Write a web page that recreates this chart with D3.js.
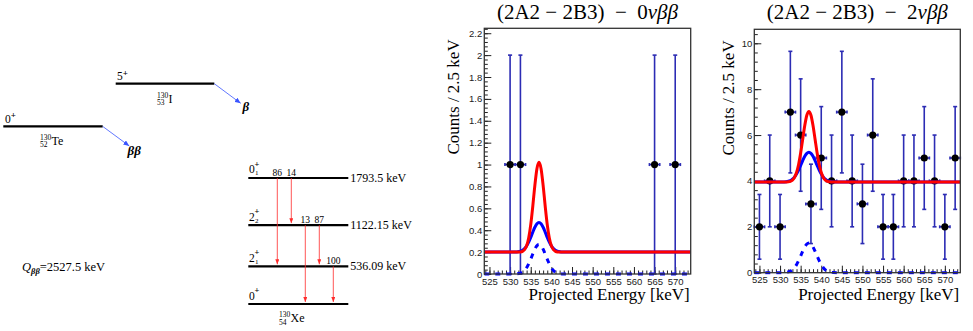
<!DOCTYPE html>
<html>
<head>
<meta charset="utf-8">
<script src="https://cdn.jsdelivr.net/npm/d3@7"></script>
<style>
  body { margin: 0; background: #fff; }
  svg { display: block; }
  .serif { font-family: "Liberation Serif", "Times New Roman", serif; }
  .sans { font-family: "Liberation Sans", Arial, sans-serif; }
</style>
</head>
<body>
<svg id="chart" width="973" height="331"></svg>
<script>
// ---- level scheme data ----
const qValue = 2527.5;
const xeLevels = [
  { spin: "0", sub: "1", energy: 1793.5, label: "1793.5 keV" },
  { spin: "2", sub: "2", energy: 1122.15, label: "1122.15 keV" },
  { spin: "2", sub: "1", energy: 536.09, label: "536.09 keV" },
  { spin: "0", sub: "", energy: 0, label: "" }
];
const gammas = [
  { from: 1793.5, to: 536.09, label: "86" },
  { from: 1793.5, to: 1122.15, label: "14" },
  { from: 1122.15, to: 0, label: "13" },
  { from: 1122.15, to: 536.09, label: "87" },
  { from: 536.09, to: 0, label: "100" }
];

// ---- histogram data (2.5 keV bins) ----
const bins0nu = [530, 532.5, 565, 570];
const counts0nu = [1, 1, 1, 1];
const errs0nu = [1, 1, 1, 1];

const bins2nu = [525, 527.5, 530, 532.5, 535, 537.5, 540, 542.5, 545, 547.5,
                 550, 552.5, 555, 557.5, 560, 562.5, 565, 567.5, 570, 572.5];
const counts2nu = [2, 4, 2, 7, 6, 3, 5, 4, 7, 4, 3, 6, 2, 2, 4, 4, 5, 4, 2, 5];
const errs2nu = [1.41, 2, 1.41, 2.65, 2.45, 1.73, 2.24, 2, 2.65, 2,
                 1.73, 2.45, 1.41, 1.41, 2, 2, 2.24, 2, 1.41, 2.24];

// fitted curves
const fitE = [523.75, 530, 531, 531.5, 532, 532.5, 533, 533.5, 534, 534.5, 535, 535.5, 536, 536.5,
              537, 537.5, 538, 538.5, 539, 539.5, 540, 540.5, 541, 541.5, 542, 542.5, 543, 544, 573.75];
const red0 = [0.2, 0.2, 0.2, 0.2, 0.201, 0.202, 0.207, 0.222, 0.257, 0.329, 0.451, 0.621, 0.810, 0.962,
              1.020, 0.962, 0.810, 0.621, 0.451, 0.329, 0.257, 0.222, 0.207, 0.202, 0.201, 0.2, 0.2, 0.2, 0.2];
const blue0 = [0.2, 0.2, 0.201, 0.201, 0.204, 0.208, 0.217, 0.232, 0.257, 0.292, 0.335, 0.383, 0.427, 0.459,
               0.470, 0.459, 0.427, 0.383, 0.335, 0.292, 0.257, 0.232, 0.217, 0.208, 0.204, 0.201, 0.201, 0.2, 0.2];
const sig0 = [0, 0, 0.001, 0.001, 0.004, 0.008, 0.017, 0.032, 0.057, 0.092, 0.135, 0.183, 0.227, 0.259,
              0.270, 0.259, 0.227, 0.183, 0.135, 0.092, 0.057, 0.032, 0.017, 0.008, 0.004, 0.001, 0.001, 0, 0];
const red2 = [3.95, 3.95, 3.951, 3.954, 3.962, 3.984, 4.038, 4.152, 4.367, 4.718, 5.216, 5.819, 6.417, 6.863,
              7.03, 6.863, 6.417, 5.819, 5.216, 4.718, 4.367, 4.152, 4.038, 3.984, 3.962, 3.954, 3.951, 3.95, 3.95];
const blue2 = [3.95, 3.951, 3.957, 3.966, 3.984, 4.017, 4.076, 4.167, 4.299, 4.472, 4.675, 4.886, 5.073, 5.203,
               5.25, 5.203, 5.073, 4.886, 4.675, 4.472, 4.299, 4.167, 4.076, 4.017, 3.984, 3.966, 3.957, 3.951, 3.95];
const sig2 = [0, 0.001, 0.007, 0.016, 0.034, 0.067, 0.126, 0.217, 0.349, 0.522, 0.725, 0.936, 1.123, 1.253,
              1.30, 1.253, 1.123, 0.936, 0.725, 0.522, 0.349, 0.217, 0.126, 0.067, 0.034, 0.016, 0.007, 0.001, 0];

const xTicks = [525, 530, 535, 540, 545, 550, 555, 560, 565, 570];
const yTicks0nu = [0, 0.2, 0.4, 0.6, 0.8, 1, 1.2, 1.4, 1.6, 1.8, 2, 2.2];
const yTicks2nu = [0, 2, 4, 6, 8, 10];

const svg = d3.select("#chart");
const defs = svg.append("defs");

function arrowHead(id, color, len, wid) {
  defs.append("marker")
    .attr("id", id)
    .attr("viewBox", `0 0 ${len} ${wid}`)
    .attr("refX", len).attr("refY", wid / 2)
    .attr("markerWidth", len).attr("markerHeight", wid)
    .attr("markerUnits", "userSpaceOnUse")
    .attr("orient", "auto")
    .append("path")
    .attr("d", `M0,0L${len},${wid / 2}L0,${wid}Z`)
    .attr("fill", color);
}
arrowHead("redHead", "#ff2b2b", 5, 4);
arrowHead("blueHead", "#3a55ff", 6, 5);

// ================= level scheme =================
const eY = d3.scaleLinear().domain([0, qValue]).range([304, 126.4]);
const xeX0 = 248.3, xeX1 = 348.3;
const scheme = svg.append("g").attr("class", "serif");

// parent levels
const teY = eY(qValue), iY = 83.7;
scheme.append("line").attr("x1", 3.3).attr("x2", 102.7).attr("y1", teY).attr("y2", teY)
  .attr("stroke", "#000").attr("stroke-width", 2.2);
scheme.append("line").attr("x1", 115.7).attr("x2", 214.3).attr("y1", iY).attr("y2", iY)
  .attr("stroke", "#000").attr("stroke-width", 2.2);

scheme.append("text").attr("x", 5).attr("y", teY - 3.5).attr("font-size", 11.5).text("0");
scheme.append("text").attr("x", 10.8).attr("y", teY - 8).attr("font-size", 9).attr("font-weight", "bold").text("+");
scheme.append("text").attr("x", 117).attr("y", iY - 3.5).attr("font-size", 11.5).text("5");
scheme.append("text").attr("x", 122.8).attr("y", iY - 8).attr("font-size", 9).attr("font-weight", "bold").text("+");

function nucleus(x, yBase, A, Z, sym) {
  scheme.append("text").attr("x", x).attr("y", yBase - 5).attr("font-size", 7.5).text(A);
  scheme.append("text").attr("x", x).attr("y", yBase + 2.5).attr("font-size", 7.5).text(Z);
  scheme.append("text").attr("x", x + 11.5).attr("y", yBase).attr("font-size", 12).text(sym);
}
nucleus(157, 102.5, "130", "53", "I");
nucleus(40, 144.5, "130", "52", "Te");
nucleus(279, 322, "130", "54", "Xe");

// beta arrows
scheme.append("line").attr("x1", 214.3).attr("y1", iY).attr("x2", 240.7).attr("y2", 103.3)
  .attr("stroke", "#3a55ff").attr("stroke-width", 0.8).attr("marker-end", "url(#blueHead)");
scheme.append("line").attr("x1", 102.7).attr("y1", teY).attr("x2", 129.3).attr("y2", 146)
  .attr("stroke", "#3a55ff").attr("stroke-width", 0.8).attr("marker-end", "url(#blueHead)");
scheme.append("text").attr("x", 242.5).attr("y", 111).attr("font-size", 13)
  .attr("font-weight", "bold").attr("font-style", "italic").text("β");
scheme.append("text").attr("x", 127.5).attr("y", 155).attr("font-size", 13)
  .attr("font-weight", "bold").attr("font-style", "italic").text("ββ");

// Q value
const qText = scheme.append("text").attr("x", 22).attr("y", 271).attr("font-size", 12.5);
qText.append("tspan").attr("font-style", "italic").text("Q");
qText.append("tspan").attr("font-size", 8.5).attr("dy", 2.5).attr("font-weight", "bold").attr("font-style", "italic").text("ββ");
qText.append("tspan").attr("dy", -2.5).text("=" + qValue + " keV");

// Xe levels
const lv = scheme.selectAll("g.level").data(xeLevels).join("g").attr("class", "level");
lv.append("line").attr("x1", xeX0).attr("x2", xeX1)
  .attr("y1", d => eY(d.energy)).attr("y2", d => eY(d.energy))
  .attr("stroke", "#000").attr("stroke-width", 2.2);
lv.append("text").attr("x", 249).attr("y", d => eY(d.energy) - 4.5).attr("font-size", 11.5).text(d => d.spin);
lv.append("text").attr("x", 254.5).attr("y", d => eY(d.energy) - 11).attr("font-size", 8.5)
  .attr("font-weight", "bold").text("+");
lv.append("text").attr("x", 255).attr("y", d => eY(d.energy) - 2.5).attr("font-size", 7).text(d => d.sub);
lv.append("text").attr("x", xeX1 + 2).attr("y", d => eY(d.energy) + 4).attr("font-size", 12).text(d => d.label);

// gamma transitions
const gx = d3.scalePoint().domain(d3.range(gammas.length)).range([277.3, 333.3]);
const gg = scheme.selectAll("g.gamma").data(gammas).join("g").attr("class", "gamma");
gg.append("line")
  .attr("x1", (d, i) => gx(i)).attr("x2", (d, i) => gx(i))
  .attr("y1", d => eY(d.from)).attr("y2", d => eY(d.to) - 2)
  .attr("stroke", "#ff2b2b").attr("stroke-width", 0.8).attr("marker-end", "url(#redHead)");
gg.append("text").attr("x", (d, i) => gx(i)).attr("y", d => eY(d.from) - 2)
  .attr("text-anchor", "middle").attr("font-size", 9.5).text(d => d.label);

// ================= histograms =================
const xDomain = [523.75, 573.75];
const errColor = "#2c2cb4";

function drawPanel(p) {
  const x = d3.scaleLinear().domain(xDomain).range([p.l, p.r]);
  const y = d3.scaleLinear().domain([0, p.yMax]).range([p.b, p.t]);
  const g = svg.append("g");

  // clip for curves
  defs.append("clipPath").attr("id", p.id).append("rect")
    .attr("x", p.l).attr("y", p.t).attr("width", p.r - p.l).attr("height", p.b - p.t + 2);

  // ticks
  const minorX = d3.range(524, 574, 1);
  g.append("g").attr("transform", `translate(0,${p.b})`)
    .call(d3.axisBottom(x).tickValues(minorX).tickSizeInner(-3.5).tickSizeOuter(0).tickFormat(""))
    .call(s => s.select(".domain").remove());
  const xa = g.append("g").attr("transform", `translate(0,${p.b})`)
    .call(d3.axisBottom(x).tickValues(xTicks).tickSizeInner(-7).tickSizeOuter(0).tickPadding(4));
  xa.select(".domain").remove();
  xa.selectAll("text").attr("class", "sans").attr("font-size", 9.5).attr("fill", "#222");

  g.append("g").attr("transform", `translate(${p.l},0)`)
    .call(d3.axisLeft(y).tickValues(p.yMinor).tickSizeInner(-3.5).tickSizeOuter(0).tickFormat(""))
    .call(s => s.select(".domain").remove());
  const ya = g.append("g").attr("transform", `translate(${p.l},0)`)
    .call(d3.axisLeft(y).tickValues(p.yTicks).tickSizeInner(-7).tickSizeOuter(0).tickPadding(2)
      .tickFormat(d3.format("~g")));
  ya.select(".domain").remove();
  ya.selectAll("text").attr("class", "sans").attr("font-size", 9.5).attr("fill", "#222");
  g.selectAll(".tick line").attr("stroke", "#222");

  // data points with error bars
  const pts = p.bins.map((c, i) => ({ c, n: p.counts[i], e: p.errs[i] }));
  const eb = g.append("g").attr("stroke", errColor).attr("stroke-width", 1.6);
  eb.selectAll("line.v").data(pts).join("line").attr("class", "v")
    .attr("x1", d => x(d.c)).attr("x2", d => x(d.c))
    .attr("y1", d => y(Math.max(0, d.n - d.e))).attr("y2", d => y(d.n + d.e));
  eb.selectAll("line.cap").data(pts).join("line").attr("class", "cap")
    .attr("x1", d => x(d.c) - 2).attr("x2", d => x(d.c) + 2)
    .attr("y1", d => y(d.n + d.e)).attr("y2", d => y(d.n + d.e));
  eb.selectAll("line.capl").data(pts).join("line").attr("class", "capl")
    .attr("x1", d => x(d.c) - 2).attr("x2", d => x(d.c) + 2)
    .attr("y1", d => y(Math.max(0, d.n - d.e))).attr("y2", d => y(Math.max(0, d.n - d.e)));
  eb.selectAll("line.h").data(pts).join("line").attr("class", "h")
    .attr("x1", d => x(d.c - 1.25)).attr("x2", d => x(d.c + 1.25))
    .attr("y1", d => y(d.n)).attr("y2", d => y(d.n));
  eb.selectAll("line.hl").data(pts).join("line").attr("class", "hl")
    .attr("x1", d => x(d.c - 1.25)).attr("x2", d => x(d.c - 1.25))
    .attr("y1", d => y(d.n) - 1.5).attr("y2", d => y(d.n) + 1.5);
  eb.selectAll("line.hr").data(pts).join("line").attr("class", "hr")
    .attr("x1", d => x(d.c + 1.25)).attr("x2", d => x(d.c + 1.25))
    .attr("y1", d => y(d.n) - 1.5).attr("y2", d => y(d.n) + 1.5);
  g.append("g").selectAll("circle").data(pts).join("circle")
    .attr("cx", d => x(d.c)).attr("cy", d => y(d.n)).attr("r", 3.6).attr("fill", "#000");

  // curves
  const line = d3.line().x((d, i) => x(fitE[i])).y(d => y(d)).curve(d3.curveMonotoneX);
  const cg = g.append("g").attr("clip-path", `url(#${p.id})`).attr("fill", "none").attr("stroke-width", 3);
  cg.append("path").attr("d", line(p.sig)).attr("stroke", "#0000ff").attr("stroke-dasharray", "5,6");
  cg.append("path").attr("d", line(p.blue)).attr("stroke", "#0000ff");
  cg.append("path").attr("d", line(p.red)).attr("stroke", "#ff0000");

  // frame
  g.append("rect").attr("x", p.l).attr("y", p.t).attr("width", p.r - p.l).attr("height", p.b - p.t)
    .attr("fill", "none").attr("stroke", "#333").attr("stroke-width", 1.3);

  // titles
  const t = g.append("text").attr("class", "serif").attr("x", (p.l + p.r) / 2).attr("y", 18.5)
    .attr("text-anchor", "middle").attr("font-size", 21).style("white-space", "pre");
  t.append("tspan").text("(2A2 \u2212 2B3)  \u2212  " + p.mode);
  t.append("tspan").attr("font-style", "italic").text("νββ");

  g.append("text").attr("class", "serif").attr("font-size", 17).attr("text-anchor", "end")
    .attr("transform", `translate(${p.yTitleX},${p.t + 11}) rotate(-90)`).text("Counts / 2.5 keV");
  g.append("text").attr("class", "serif").attr("font-size", 17).attr("text-anchor", "end")
    .attr("x", p.r - 1).attr("y", 300).text("Projected Energy [keV]");
}

drawPanel({
  id: "clip0", l: 484.3, r: 690.7, t: 28.3, b: 274, yMax: 2.245,
  yTicks: yTicks0nu, yMinor: d3.range(0, 2.245, 0.04),
  bins: bins0nu, counts: counts0nu, errs: errs0nu,
  red: red0, blue: blue0, sig: sig0, mode: "0", yTitleX: 459
});
drawPanel({
  id: "clip2", l: 754.3, r: 960.3, t: 29.3, b: 272.7, yMax: 10.61,
  yTicks: yTicks2nu, yMinor: d3.range(0, 10.61, 0.4),
  bins: bins2nu, counts: counts2nu, errs: errs2nu,
  red: red2, blue: blue2, sig: sig2, mode: "2", yTitleX: 734
});
</script>
</body>
</html>
